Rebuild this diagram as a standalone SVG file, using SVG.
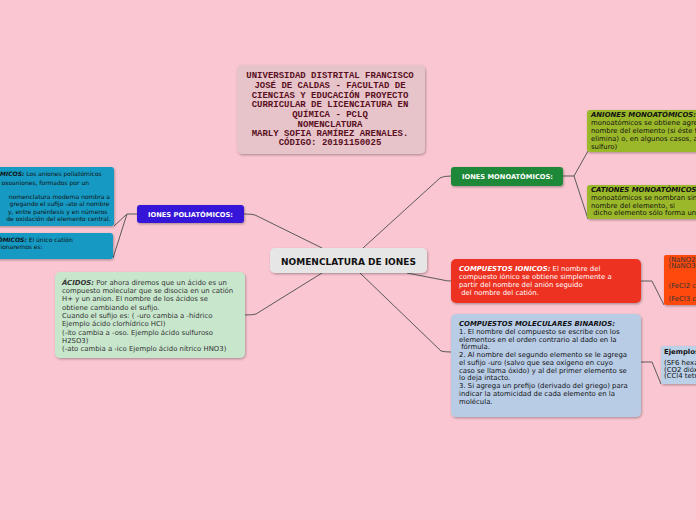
<svg xmlns="http://www.w3.org/2000/svg" width="696" height="520" viewBox="0 0 696 520">
<defs>
<filter id="sh" x="-10%" y="-10%" width="130%" height="140%">
<feDropShadow dx="0.8" dy="1.2" stdDeviation="0.9" flood-color="#000" flood-opacity="0.3"/>
</filter>
<style>
.b{font-family:"DejaVu Sans",Verdana,sans-serif;font-size:6.9px;fill:#333}
.w{fill:#fff}
.k{fill:#111}
.h{font-weight:bold;font-style:italic}
.e{text-anchor:end;font-size:6px}
.lab{font-family:"DejaVu Sans",Verdana,sans-serif;font-weight:bold;font-size:6.7px;fill:#fff;text-anchor:middle}
.tt{font-family:"Liberation Mono","Courier New",monospace;font-weight:bold;font-size:9px;fill:#5a0f1e;text-anchor:middle}
.c{fill:none;stroke:#5a5a5a;stroke-width:1}
</style>
</defs>
<rect width="696" height="520" fill="#f9c6d1"/>

<g id="connectors">
<path class="c" d="M322,248 L255,215 Q252,214 244,214"/>
<path class="c" d="M363,248 L440,178 Q443,176 451,176"/>
<path class="c" d="M322,273 L256,314 Q253,315 245,315"/>
<path class="c" d="M407,273 L443,280 Q446,281 451,281"/>
<path class="c" d="M360,273 L441,351 Q444,352 451,352"/>
<path class="c" d="M137,214 L127,214 L114,226"/>
<path class="c" d="M127,214 L113,258"/>
<path class="c" d="M563,176 L574,176 L588,151"/>
<path class="c" d="M574,176 L588,219"/>
<path class="c" d="M641,281 L652,281 L664,305"/>
<path class="c" d="M641,362 L652,362 L661,384"/>
</g>

<g id="title">
<rect x="237" y="65" width="188" height="89" rx="5" fill="#e6c4c9" filter="url(#sh)"/>
<text class="tt" x="330" y="78">UNIVERSIDAD DISTRITAL FRANCISCO</text>
<text class="tt" x="330" y="87.5">JOSÉ DE CALDAS - FACULTAD DE</text>
<text class="tt" x="330" y="97.5">CIENCIAS Y EDUCACIÓN PROYECTO</text>
<text class="tt" x="330" y="107">CURRICULAR DE LICENCIATURA EN</text>
<text class="tt" x="330" y="116.5">QUÍMICA - PCLQ</text>
<text class="tt" x="330" y="126.5">NOMENCLATURA</text>
<text class="tt" x="330" y="136">MARLY SOFIA RAMÍREZ ARENALES.</text>
<text class="tt" x="330" y="145">CÓDIGO: 20191150025</text>
</g>

<g id="central">
<rect x="270" y="248" width="157" height="25" rx="5" fill="#e6e6e6" filter="url(#sh)"/>
<text x="348.5" y="265" text-anchor="middle" font-family="DejaVu Sans,Verdana,sans-serif" font-weight="bold" font-size="9" fill="#111">NOMENCLATURA DE IONES</text>
</g>

<g id="poli">
<rect x="137" y="205" width="107" height="18" rx="3" fill="#3414d8" filter="url(#sh)"/>
<text class="lab" x="190.5" y="216.7">IONES POLIATÓMICOS:</text>
</g>

<g id="mono">
<rect x="451" y="167" width="112" height="19" rx="3" fill="#1e8838" filter="url(#sh)"/>
<text class="lab" x="507.5" y="178.6">IONES MONOATÓMICOS:</text>
</g>

<g id="aniones-poli">
<rect x="-10" y="167" width="124" height="59" rx="3" fill="#1299c2" filter="url(#sh)"/>
<text class="b k e" x="101.7" y="176.3"><tspan class="h">MICOS:</tspan> Los aniones poliatómicos</text>
<text class="b k e" x="89" y="184.7">oxoaniones, formados por un</text>
<text class="b k e" x="110" y="198.7">nomenclatura moderna nombra a</text>
<text class="b k e" x="109.5" y="206.3">gregando el sufijo -ato al nombre</text>
<text class="b k e" x="107.5" y="213.7">y, entre paréntesis y en números</text>
<text class="b k e" x="110.5" y="221.3">de oxidación del elemento central.</text>
</g>

<g id="cationes-poli">
<rect x="-10" y="233" width="123" height="26" rx="3" fill="#1299c2" filter="url(#sh)"/>
<text class="b k e" x="72.7" y="242"><tspan class="h">ÓMICOS:</tspan> El único catión</text>
<text class="b k e" x="42.7" y="248.7">cionaremos es:</text>
</g>

<g id="acidos">
<rect x="55" y="272" width="190" height="86" rx="5" fill="#c7e6cc" filter="url(#sh)"/>
<text class="b" x="62" y="284.5"><tspan class="h">ÁCIDOS:</tspan> Por ahora diremos que un ácido es un</text>
<text class="b" x="62" y="293">compuesto molecular que se disocia en un catión</text>
<text class="b" x="62" y="301.3">H+ y un anion. El nombre de los ácidos se</text>
<text class="b" x="62" y="309.6">obtiene cambiando el sufijo.</text>
<text class="b" x="62" y="318">Cuando el sufijo es: ( -uro cambia a -hídrico</text>
<text class="b" x="62" y="326.3">Ejemplo ácido clorhídrico HCl)</text>
<text class="b" x="62" y="334.6">(-ito cambia a -oso. Ejemplo ácido sulfuroso</text>
<text class="b" x="62" y="343">H2SO3)</text>
<text class="b" x="62" y="351.3">(-ato cambia a -ico Ejemplo ácido nítrico HNO3)</text>
</g>

<g id="aniones-mono">
<rect x="587" y="110" width="120" height="42" rx="3" fill="#9bb72a" filter="url(#sh)"/>
<text class="b k" font-size="6.1" x="591" y="117.2"><tspan class="h">ANIONES MONOATÓMICOS:</tspan> El nombre</text>
<text class="b k" font-size="6.1" x="591" y="125.3">monoatómicos se obtiene agregando</text>
<text class="b k" font-size="6.1" x="591" y="133.1">nombre del elemento (si éste termina</text>
<text class="b k" font-size="6.1" x="591" y="141">elimina) o, en algunos casos, a su raíz</text>
<text class="b k" font-size="6.1" x="591" y="148.8">sulfuro)</text>
</g>

<g id="cationes-mono">
<rect x="587" y="185" width="120" height="34" rx="3" fill="#9bb72a" filter="url(#sh)"/>
<text class="b k" font-size="6.1" x="591" y="192.2"><tspan class="h">CATIONES MONOATÓMICOS:</tspan> Los</text>
<text class="b k" font-size="6.1" x="591" y="200.1">monoatómicos se nombran simplemente</text>
<text class="b k" font-size="6.1" x="591" y="208">nombre del elemento, si</text>
<text class="b k" font-size="6.1" x="591" y="215.4" xml:space="preserve"> dicho elemento sólo forma un tipo</text>
</g>

<g id="ionicos">
<rect x="451" y="259" width="190" height="44" rx="5" fill="#ee3024" filter="url(#sh)"/>
<text class="b w" font-size="7" x="459" y="270.5"><tspan class="h">COMPUESTOS IONICOS:</tspan> El nombre del</text>
<text class="b w" font-size="7" x="459" y="278.6">compuesto iónico se obtiene simplemente a</text>
<text class="b w" font-size="7" x="459" y="286.9">partir del nombre del anión seguido</text>
<text class="b w" font-size="7" x="459" y="295.2" xml:space="preserve"> del nombre del catión.</text>
</g>

<g id="ejemplos-ionicos">
<rect x="664" y="255" width="40" height="50" rx="2" fill="#ff4a0a" filter="url(#sh)"/>
<text class="b" font-size="5" fill="#ffd9bf" x="668.5" y="261.5">(NaNO2 nitrito</text>
<text class="b" font-size="5" fill="#ffd9bf" x="668.5" y="268.2">(NaNO3 nitrato</text>
<text class="b" font-size="5" fill="#ffd9bf" x="668.5" y="287.5">(FeCl2 cloruro</text>
<text class="b" font-size="5" fill="#ffd9bf" x="668.5" y="301">(FeCl3 cloruro</text>
</g>

<g id="moleculares">
<rect x="451" y="314" width="190" height="103" rx="5" fill="#b8cce6" filter="url(#sh)"/>
<text class="b k" font-size="6.6" x="459" y="326.2"><tspan class="h">COMPUESTOS MOLECULARES BINARIOS:</tspan></text>
<text class="b k" font-size="6.6" x="459" y="333.9">1. El nombre del compuesto se escribe con los</text>
<text class="b k" font-size="6.6" x="459" y="341.7">elementos en el orden contrario al dado en la</text>
<text class="b k" font-size="6.6" x="459" y="349.4" xml:space="preserve"> fórmula.</text>
<text class="b k" font-size="6.6" x="459" y="357.2">2. Al nombre del segundo elemento se le agrega</text>
<text class="b k" font-size="6.6" x="459" y="364.9">el sufijo -uro (salvo que sea oxígeno en cuyo</text>
<text class="b k" font-size="6.6" x="459" y="372.7">caso se llama óxido) y al del primer elemento se</text>
<text class="b k" font-size="6.6" x="459" y="380.4">lo deja intacto.</text>
<text class="b k" font-size="6.6" x="459" y="388.2">3. Si agrega un prefijo (derivado del griego) para</text>
<text class="b k" font-size="6.6" x="459" y="395.9">indicar la atomicidad de cada elemento en la</text>
<text class="b k" font-size="6.6" x="459" y="403.7">molécula.</text>
</g>

<g id="ejemplos-moleculares">
<rect x="661" y="346" width="40" height="38" rx="2" fill="#bcd0e8" filter="url(#sh)"/>
<text class="b k" font-size="5.1" font-weight="bold" x="664" y="354">Ejemplos</text>
<text class="b k" font-size="5.1" x="664" y="364.8">(SF6 hexafluoruro</text>
<text class="b k" font-size="5.1" x="664" y="371.5">(CO2 dióxido</text>
<text class="b k" font-size="5.1" x="664" y="378.2">(CCl4 tetracloruro</text>
</g>
</svg>
